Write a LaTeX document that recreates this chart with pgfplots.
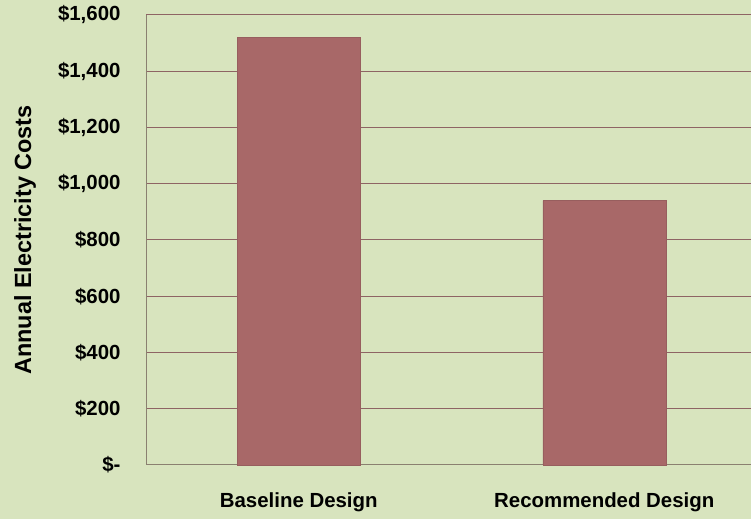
\documentclass[border=0pt]{standalone}
\usepackage{pgfplots}
\pgfplotsset{compat=1.18}
\usepackage{fontspec}
\setmainfont{Liberation Sans}
\definecolor{bg}{HTML}{D8E4BE}
\definecolor{barc}{HTML}{A86868}
\definecolor{gridc}{HTML}{8E6464}
\definecolor{axc}{HTML}{8A8070}
\begin{document}
\begin{tikzpicture}
\fill[bg] (0,0) rectangle (751bp,519bp);
\useasboundingbox (0,0) rectangle (751bp,519bp);
\begin{scope}
\clip (0,0) rectangle (751bp,519bp);
\begin{axis}[
  at={(146bp,54bp)}, anchor=south west,
  scale only axis, width=611bp, height=450bp,
  xmin=-0.5, xmax=1.5, ymin=0, ymax=1600,
  axis x line*=bottom, axis y line*=left,
  axis line style={axc, line width=1bp, -},
  xtick={0,1}, xticklabels={Baseline Design, Recommended Design},
  ytick={0,200,...,1600},
  yticklabels={\$-,\$200,\$400,\$600,\$800,{\$1,000},{\$1,200},{\$1,400},{\$1,600}},
  major tick length=0pt,
  ymajorgrids, grid style={gridc, line width=1bp},
  yticklabel style={font=\bfseries\fontsize{20.5}{23}\selectfont, xshift=-22bp},
  xticklabel style={font=\bfseries\fontsize{20.5}{23}\selectfont, yshift=-24bp},
  ylabel={Annual Electricity Costs},
  every axis y label/.style={at={(-121bp,225bp)}, rotate=90, anchor=center, font=\bfseries\fontsize{23.5}{26}\selectfont},
  clip=false,
]
\addplot[ybar, bar width=123bp, fill=barc, draw=barc!90!black, bar shift=0pt] coordinates {(0,1520) (1,940)};
\end{axis}
\end{scope}
\end{tikzpicture}
\end{document}
